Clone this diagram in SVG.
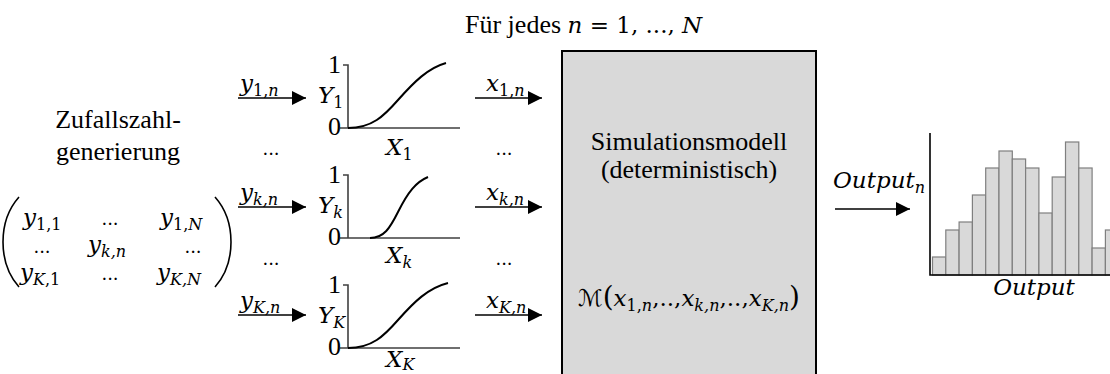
<svg xmlns="http://www.w3.org/2000/svg" width="1110" height="374" viewBox="0 0 1110 374">
<defs>
<style>
.t{font-family:"Liberation Serif","Noto Serif","DejaVu Serif",serif;font-size:26px;fill:#000}
.m{font-family:"DejaVu Serif","Liberation Serif",serif;font-style:italic;font-size:23px;fill:#000}
.s{font-size:16px}
.u{font-style:normal}
.d{font-style:normal;font-size:18px}
.ax{stroke:#404040;stroke-width:1.6;fill:none}
.cv{stroke:#000;stroke-width:2;fill:none}
.ar{stroke:#000;stroke-width:1.6;fill:none}
.bar{fill:#d9d9d9;stroke:#7f7f7f;stroke-width:1.2}
.par{stroke:#000;stroke-width:1.6;fill:none}
</style>
<marker id="ah" markerUnits="userSpaceOnUse" markerWidth="14" markerHeight="14" refX="14" refY="7" orient="auto">
<path d="M0,0 L14,7 L0,14 Z" fill="#000"/>
</marker>
</defs>
<rect width="1110" height="374" fill="#fff"/>

<g id="header">
<text class="t" x="465" y="33">Für jedes <tspan class="m" font-size="23">n</tspan><tspan class="m u" font-size="23"> = 1, ..., </tspan><tspan class="m" font-size="23">N</tspan></text>
</g>

<g id="zufall">
<text class="t" x="118" y="128" text-anchor="middle">Zufallszahl-</text>
<text class="t" x="118" y="160" text-anchor="middle">generierung</text>
</g>

<g id="matrix">
<path class="par" d="M19,197 Q3,215 3,242 Q3,269 19,287"/>
<path class="par" d="M215,197 Q231,215 231,242 Q231,269 215,287"/>
<text class="m" x="23" y="225">y<tspan class="s u" dy="5">1,1</tspan></text>
<text class="m d" x="110" y="225" text-anchor="middle">...</text>
<text class="m" x="160" y="225">y<tspan class="s" dy="5"><tspan class="u">1,</tspan>N</tspan></text>
<text class="m d" x="42" y="253" text-anchor="middle">...</text>
<text class="m" x="88" y="252">y<tspan class="s" dy="5">k,n</tspan></text>
<text class="m d" x="193" y="253" text-anchor="middle">...</text>
<text class="m" x="20" y="280">y<tspan class="s" dy="5">K<tspan class="u">,1</tspan></tspan></text>
<text class="m d" x="110" y="280" text-anchor="middle">...</text>
<text class="m" x="157" y="280">y<tspan class="s" dy="5">K,N</tspan></text>
</g>

<g id="connectors">
<line class="ar" x1="238" y1="98" x2="306" y2="98" marker-end="url(#ah)"/>
<line class="ar" x1="238" y1="207" x2="306" y2="207" marker-end="url(#ah)"/>
<line class="ar" x1="238" y1="315" x2="306" y2="315" marker-end="url(#ah)"/>
<line class="ar" x1="475" y1="98" x2="542" y2="98" marker-end="url(#ah)"/>
<line class="ar" x1="475" y1="207" x2="542" y2="207" marker-end="url(#ah)"/>
<line class="ar" x1="475" y1="315" x2="542" y2="315" marker-end="url(#ah)"/>
<line class="ar" x1="835" y1="209" x2="910" y2="209" marker-end="url(#ah)"/>
</g>

<g id="arrow-labels">
<text class="m" x="240" y="91">y<tspan class="s" dy="5"><tspan class="u">1,</tspan>n</tspan></text>
<text class="m" x="240" y="200">y<tspan class="s" dy="5">k,n</tspan></text>
<text class="m" x="240" y="308">y<tspan class="s" dy="5">K,n</tspan></text>
<text class="m" x="486" y="91">x<tspan class="s" dy="5"><tspan class="u">1,</tspan>n</tspan></text>
<text class="m" x="486" y="200">x<tspan class="s" dy="5">k,n</tspan></text>
<text class="m" x="486" y="308">x<tspan class="s" dy="5">K,n</tspan></text>
<text class="m" x="833" y="188" font-size="22">Output<tspan class="s" dy="5">n</tspan></text>
<text class="m d" x="271" y="155" text-anchor="middle">...</text>
<text class="m d" x="271" y="265" text-anchor="middle">...</text>
<text class="m d" x="504" y="155" text-anchor="middle">...</text>
<text class="m d" x="504" y="265" text-anchor="middle">...</text>
</g>

<g id="cdf1">
<path class="ax" d="M343,65 H348 V128 M340,128 H460"/>
<path class="cv" d="M348,128 C372,128 384,116 398,100 C414,82 428,68 446,63"/>
<text class="t" x="341" y="73" text-anchor="end" font-size="24">1</text>
<text class="t" x="341" y="135" text-anchor="end" font-size="24">0</text>
<text class="m" x="318" y="103">Y<tspan class="s u" dy="5">1</tspan></text>
<text class="m" x="386" y="155">X<tspan class="s u" dy="5">1</tspan></text>
</g>

<g id="cdfk">
<path class="ax" d="M343,175 H348 V238 M340,238 H460"/>
<path class="cv" d="M370,238 C384,238 390,228 398,212 C408,192 416,182 428,177"/>
<text class="t" x="341" y="183" text-anchor="end" font-size="24">1</text>
<text class="t" x="341" y="245" text-anchor="end" font-size="24">0</text>
<text class="m" x="318" y="213">Y<tspan class="s" dy="5">k</tspan></text>
<text class="m" x="386" y="263">X<tspan class="s" dy="5">k</tspan></text>
</g>

<g id="cdfK">
<path class="ax" d="M343,285 H348 V348 M340,348 H460"/>
<path class="cv" d="M348,348 C372,348 384,336 398,320 C414,302 428,288 448,283"/>
<text class="t" x="341" y="293" text-anchor="end" font-size="24">1</text>
<text class="t" x="341" y="355" text-anchor="end" font-size="24">0</text>
<text class="m" x="318" y="323">Y<tspan class="s" dy="5">K</tspan></text>
<text class="m" x="386" y="367">X<tspan class="s" dy="3">K</tspan></text>
</g>

<g id="model">
<rect x="562" y="51" width="254" height="340" fill="#d9d9d9" stroke="#000" stroke-width="2"/>
<text class="t" x="689" y="150" text-anchor="middle">Simulationsmodell</text>
<text class="t" x="689" y="178" text-anchor="middle">(deterministisch)</text>
<text class="m" x="689" y="306" text-anchor="middle" font-size="22"><tspan font-family="DejaVu Sans" font-style="normal">ℳ</tspan><tspan class="u" font-size="28">(</tspan>x<tspan class="s" dy="5"><tspan class="u">1,</tspan>n</tspan><tspan class="u" dy="-5">,..,</tspan>x<tspan class="s" dy="5">k,n</tspan><tspan class="u" dy="-5">,..,</tspan>x<tspan class="s" dy="5">K,n</tspan><tspan class="u" dy="-5" font-size="28">)</tspan></text>
</g>

<g id="histogram">
<rect class="bar" x="932.5" y="257" width="13.3" height="18"/>
<rect class="bar" x="945.8" y="230" width="13.3" height="45"/>
<rect class="bar" x="959.1" y="222" width="13.3" height="53"/>
<rect class="bar" x="972.4" y="195" width="13.3" height="80"/>
<rect class="bar" x="985.7" y="168" width="13.3" height="107"/>
<rect class="bar" x="999.0" y="151" width="13.3" height="124"/>
<rect class="bar" x="1012.3" y="159" width="13.3" height="116"/>
<rect class="bar" x="1025.6" y="168" width="13.3" height="107"/>
<rect class="bar" x="1038.9" y="213" width="13.3" height="62"/>
<rect class="bar" x="1052.2" y="177" width="13.3" height="98"/>
<rect class="bar" x="1065.5" y="142" width="13.3" height="133"/>
<rect class="bar" x="1078.8" y="168" width="13.3" height="107"/>
<rect class="bar" x="1092.1" y="248" width="13.3" height="27"/>
<rect class="bar" x="1105.4" y="230" width="13.3" height="45"/>
<path d="M930,133 V275 H1110" stroke="#000" stroke-width="1.6" fill="none"/>
<text class="m" x="1034" y="295" text-anchor="middle">Output</text>
</g>
</svg>
